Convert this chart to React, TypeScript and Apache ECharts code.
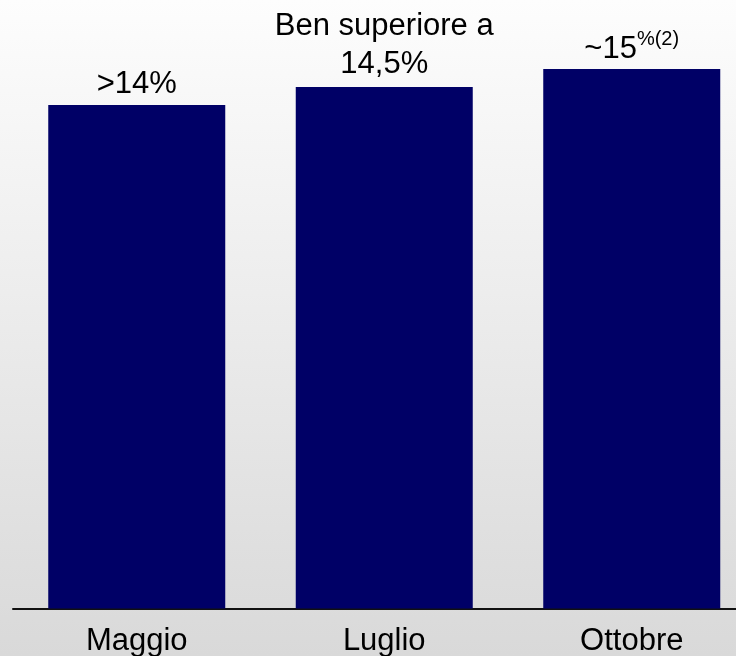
import React, { useEffect, useRef } from "react";
import * as echarts from "echarts";

const categories = ["Maggio", "Luglio", "Ottobre"];
const values = [14, 14.5, 15];
const barLabels = ["{m|>14%}", "{m|Ben superiore a}\n{m|14,5%}", "{m|~15}{s|%(2)}"];
const labelDistances = [3, 5, 3];

const FONT = "'Liberation Sans', Arial, Helvetica, sans-serif";

export default function App() {
  const ref = useRef<HTMLDivElement>(null);
  useEffect(() => {
    if (!ref.current) return;
    const chart = echarts.init(ref.current, null, { renderer: "svg" });
    const rich = {
      m: { fontSize: 31, lineHeight: 38, color: "#000", fontFamily: FONT },
      s: { fontSize: 20, lineHeight: 26, color: "#000", fontFamily: FONT, verticalAlign: "top" },
    };
    chart.setOption({
      animation: false,
      backgroundColor: "transparent",
      graphic: [
        {
          type: "rect",
          z: -10,
          silent: true,
          shape: { x: 0, y: 0, width: 770, height: 656 },
          style: {
            fill: new echarts.graphic.LinearGradient(0, 0, 0, 1, [
              { offset: 0, color: "#fdfdfd" },
              { offset: 1, color: "#d9d9d9" },
            ]),
          },
        },
      ],
      grid: { left: 13, top: 69, width: 742.5, height: 539.5, containLabel: false },
      xAxis: {
        type: "category",
        data: categories,
        axisTick: { show: false },
        axisLine: { show: true, lineStyle: { color: "#111", width: 2 } },
        axisLabel: {
          color: "#000",
          fontSize: 31,
          lineHeight: 31,
          fontFamily: FONT,
          margin: 15,
        },
      },
      yAxis: { type: "value", min: 0, max: 15, show: false, splitLine: { show: false } },
      series: [
        {
          type: "bar",
          barWidth: 177,
          itemStyle: { color: "#000066" },
          data: values.map((v, i) => ({
            value: v,
            label: {
              show: true,
              position: "top",
              distance: labelDistances[i],
              formatter: barLabels[i],
              rich,
              align: "center",
            },
          })),
        },
      ],
    });
    return () => chart.dispose();
  }, []);
  return (
    <div
      style={{
        position: "fixed",
        left: 0,
        top: 0,
        width: 736,
        height: 656,
        overflow: "hidden",
      }}
    >
      <div ref={ref} style={{ width: 770, height: 656 }} />
    </div>
  );
}
